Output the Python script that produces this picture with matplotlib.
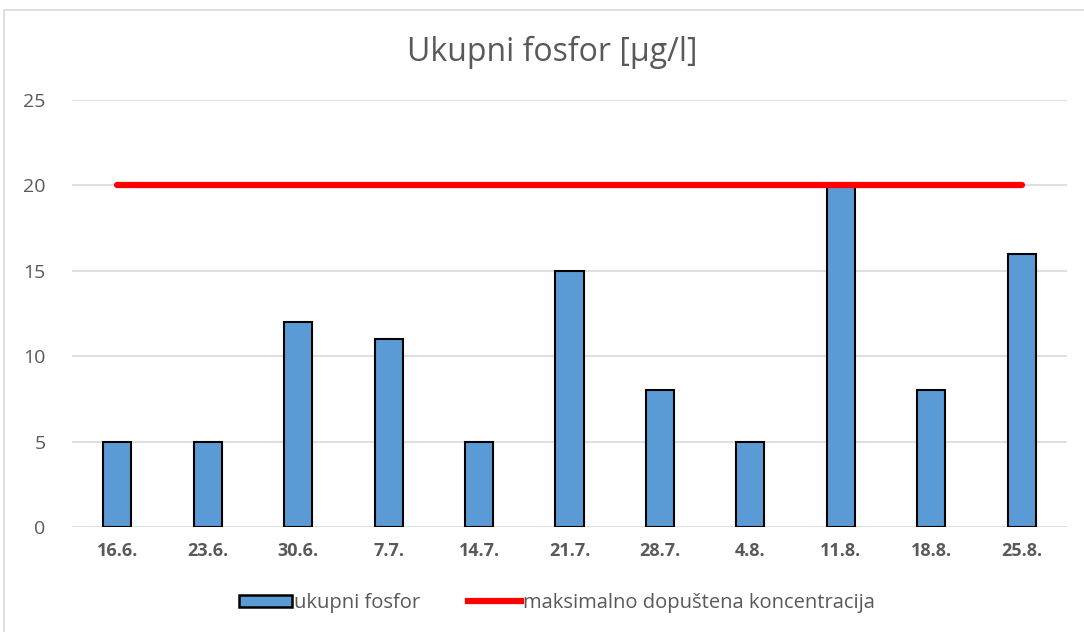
import matplotlib.pyplot as plt
from matplotlib.patches import Rectangle, Patch
from matplotlib.lines import Line2D

dates = ["16.6.", "23.6.", "30.6.", "7.7.", "14.7.", "21.7.", "28.7.", "4.8.", "11.8.", "18.8.", "25.8."]
fosfor = [5, 5, 12, 11, 5, 15, 8, 5, 20, 8, 16]
max_konc = [20] * len(dates)

plt.rcParams['font.family'] = ['Open Sans', 'DejaVu Sans']

fig = plt.figure(figsize=(10.84, 6.32), dpi=100)
ax = fig.add_axes([72 / 1084, 1 - 527 / 632, 995 / 1084, 427 / 632])

# outer chart border
fig.patches.append(Rectangle((4 / 1084, -0.05), 1.1, 1 - 10 / 632 + 0.05,
                             transform=fig.transFigure, fill=False,
                             edgecolor="#d9d9d9", linewidth=1.2))

x = range(len(dates))
ax.bar(x, fosfor, width=0.31, color="#5b9bd5", edgecolor="black", linewidth=1.5, zorder=3)
ax.plot(x, max_konc, color="#ff0000", linewidth=4.5, solid_capstyle="round", zorder=4)

ax.set_xlim(-0.5, len(dates) - 0.5)
ax.set_ylim(0, 25)
ax.set_yticks([0, 5, 10, 15, 20, 25])
ax.grid(axis="y", color="#d9d9d9", linewidth=1.2, zorder=0)
for s in ax.spines.values():
    s.set_visible(False)
ax.tick_params(length=0)
ax.tick_params(axis="y", labelsize=14, labelcolor="#595959", pad=19)
ax.set_xticks(list(x))
ax.set_xticklabels(dates, fontsize=13, fontweight="bold", color="#595959")
ax.tick_params(axis="x", pad=11)

fig.text(552 / 1084, 1 - 52 / 632, "Ukupni fosfor [µg/l]", ha="center", va="center",
         fontsize=23, color="#595959")

handles = [Patch(facecolor="#5b9bd5", edgecolor="black", linewidth=1.8),
           Line2D([0], [0], color="#ff0000", linewidth=4.5)]
fig.legend(handles, ["ukupni fosfor", "maksimalno dopuštena koncentracija"],
           loc="center", bbox_to_anchor=(557 / 1084, 1 - 603 / 632), ncol=2,
           frameon=False, fontsize=14.5, labelcolor="#595959", handlelength=2.6,
           handleheight=0.55, handletextpad=0.1, columnspacing=2.4)

fig.savefig("out.png", dpi=100)
